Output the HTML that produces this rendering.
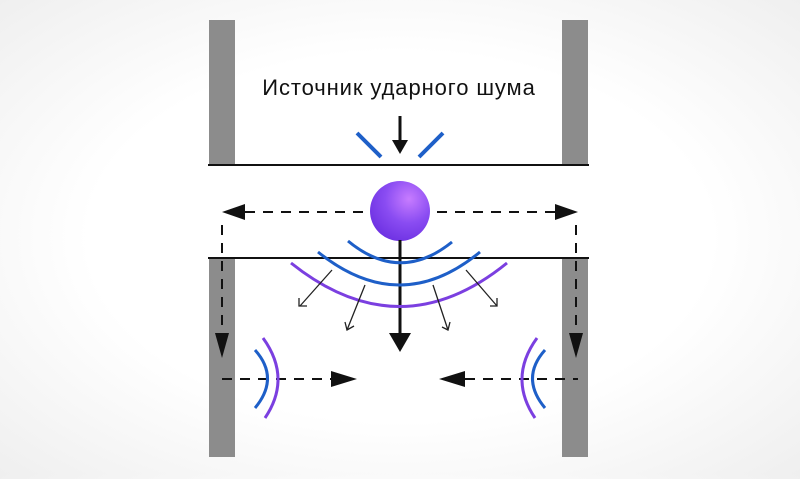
<!DOCTYPE html>
<html><head><meta charset="utf-8"><style>
html,body{margin:0;padding:0;}
body{width:800px;height:474px;overflow:hidden;background:radial-gradient(ellipse at center,#ffffff 55%,#efefef 100%);}
</style></head><body>
<svg width="800" height="474" viewBox="0 0 800 474" xmlns="http://www.w3.org/2000/svg">
<defs>
<radialGradient id="g" cx="0.65" cy="0.3" r="0.8">
<stop offset="0" stop-color="#c77cff"/><stop offset="0.5" stop-color="#8a4cf2"/><stop offset="1" stop-color="#6a2ee0"/>
</radialGradient>
</defs>
<rect x="209" y="20" width="26" height="145" fill="#8c8c8c"/>
<rect x="562" y="20" width="26" height="145" fill="#8c8c8c"/>
<rect x="209" y="258" width="26" height="199" fill="#8c8c8c"/>
<rect x="562" y="258" width="26" height="199" fill="#8c8c8c"/>
<line x1="208" y1="165" x2="589" y2="165" stroke="#111" stroke-width="2"/>
<line x1="208" y1="258" x2="589" y2="258" stroke="#111" stroke-width="2"/>
<text x="399" y="95" text-anchor="middle" font-family="Liberation Sans, sans-serif" font-size="22" letter-spacing="0.9" fill="#111">Источник ударного шума</text>
<line x1="400" y1="116" x2="400" y2="142" stroke="#111" stroke-width="3"/>
<polygon points="392,140 408,140 400,154" fill="#111"/>
<line x1="357" y1="133" x2="381" y2="157" stroke="#1e5fc8" stroke-width="4"/>
<line x1="443" y1="133" x2="419" y2="157" stroke="#1e5fc8" stroke-width="4"/>
<g stroke="#111" stroke-width="2" stroke-dasharray="10,8" fill="none">
<line x1="245" y1="212" x2="365" y2="212"/>
<line x1="437" y1="212" x2="555" y2="212"/>
<line x1="222" y1="225" x2="222" y2="335"/>
<line x1="576" y1="225" x2="576" y2="335"/>
<line x1="222" y1="379" x2="333" y2="379"/>
<line x1="465" y1="379" x2="578" y2="379"/>
</g>
<g fill="#111">
<polygon points="222,212 245,204 245,220"/>
<polygon points="578,212 555,204 555,220"/>
<polygon points="215,333 229,333 222,358"/>
<polygon points="569,333 583,333 576,358"/>
<polygon points="357,379 331,371 331,387"/>
<polygon points="439,379 465,371 465,387"/>
</g>
<circle cx="400" cy="211" r="30" fill="url(#g)"/>
<line x1="400" y1="240" x2="400" y2="335" stroke="#111" stroke-width="3"/>
<polygon points="389,333 411,333 400,352" fill="#111"/>
<g fill="none" stroke-width="3">
<path d="M348,241 Q400,284 452,242" stroke="#1e5fc8"/>
<path d="M318,252 Q400,318 480,252" stroke="#1e5fc8"/>
<path d="M291,263 Q400,350 507,263" stroke="#7b3fe0"/>
<path d="M255,350 Q280,378 255,408" stroke="#1e5fc8"/>
<path d="M263,338 Q292,378 265,418" stroke="#7b3fe0"/>
<path d="M545,350 Q520,378 545,408" stroke="#1e5fc8"/>
<path d="M537,338 Q508,378 535,418" stroke="#7b3fe0"/>
</g>
<g stroke="#222" stroke-width="1.3" fill="none">
<line x1="332" y1="270" x2="300" y2="306"/><polyline points="299,298 299,306 307,306"/>
<line x1="365" y1="285" x2="347" y2="330"/><polyline points="345,322 347,330 354,326"/>
<line x1="433" y1="285" x2="448" y2="330"/><polyline points="442,327 448,330 450,322"/>
<line x1="466" y1="270" x2="497" y2="306"/><polyline points="490,306 497,306 497,298"/>
</g>
</svg>
</body></html>
